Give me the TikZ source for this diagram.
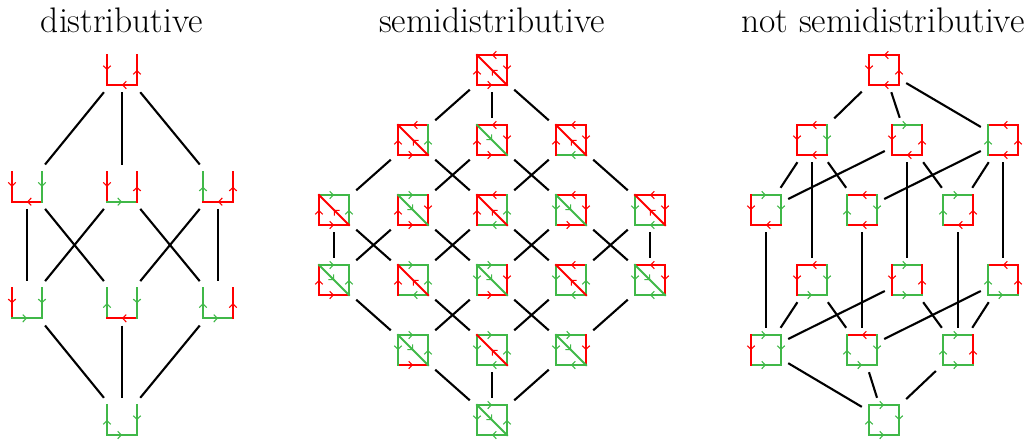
\documentclass[tikz,border=0pt]{standalone}
\usetikzlibrary{arrows.meta,decorations.markings}
\definecolor{rd}{RGB}{255,0,0}
\definecolor{gr}{RGB}{64,184,72}
\tikzset{
  icon/.style={rectangle,minimum width=44pt,minimum height=44pt,inner sep=0pt},
  conn/.style={line width=2.1pt,black},
  midarrow/.style={postaction={decorate},decoration={markings,mark=at position 0.5 with {\arrow{Straight Barb[length=3.5pt,width=7.5pt,line width=1.1pt]}}}},
  redge/.style={rd,line width=2.1pt,line cap=rect,midarrow},
  gedge/.style={gr,line width=2.1pt,line cap=rect,midarrow},
  title/.style={font=\fontsize{35.5}{40}\selectfont,anchor=base}
}
% #1 node, #2 bit (0 red, 1 green), #3 start offset, #4 end offset (red direction)
\newcommand\ed[4]{\ifnum#2=0\relax
  \draw[redge] ([shift={#3}]#1.center) -- ([shift={#4}]#1.center);
  \else
  \draw[gedge] ([shift={#4}]#1.center) -- ([shift={#3}]#1.center);
  \fi}
% left panel: L B R
\newcommand\lsq[4]{%
  \ed{#1}{#2}{(-15,-15)}{(-15,15)}%
  \ed{#1}{#3}{(15,15)}{(-15,15)}%
  \ed{#1}{#4}{(15,15)}{(15,-15)}}
% middle panel: T R B L D
\newcommand\msq[6]{%
  \ed{#1}{#2}{(15,-15)}{(-15,-15)}%
  \ed{#1}{#3}{(15,-15)}{(15,15)}%
  \ed{#1}{#4}{(-15,15)}{(15,15)}%
  \ed{#1}{#5}{(-15,15)}{(-15,-15)}%
  \ed{#1}{#6}{(15,15)}{(-15,-15)}}
% right panel: T R B L
\newcommand\rsq[5]{%
  \ed{#1}{#2}{(15,-15)}{(-15,-15)}%
  \ed{#1}{#3}{(15,15)}{(15,-15)}%
  \ed{#1}{#4}{(15,15)}{(-15,15)}%
  \ed{#1}{#5}{(-15,-15)}{(-15,15)}}
\begin{document}
\begin{tikzpicture}[x=1pt,y=-1pt]
\useasboundingbox (0,0) rectangle (1027,440);
% titles
\node[title] (t1) at (122,32) {distributive};
\node[title] (t2) at (492,32) {semidistributive};
\node[title] (t3) at (883,32) {not semidistributive};
% ---------- left ----------
\node[icon] (d0) at (122,70) {};
\node[icon] (d1a) at (27,186.7) {};
\node[icon] (d1b) at (122,186.7) {};
\node[icon] (d1c) at (218,186.7) {};
\node[icon] (d2a) at (27,303.3) {};
\node[icon] (d2b) at (122,303.3) {};
\node[icon] (d2c) at (218,303.3) {};
\node[icon] (d3) at (122,420) {};
\foreach \a/\b in {d0/d1a,d0/d1b,d0/d1c,d1a/d2a,d1a/d2b,d1b/d2a,d1b/d2c,d1c/d2b,d1c/d2c,d2a/d3,d2b/d3,d2c/d3}
  \draw[conn] (\a) -- (\b);
\lsq{d0}{0}{0}{0}
\lsq{d1a}{0}{0}{1}
\lsq{d1b}{0}{1}{0}
\lsq{d1c}{1}{0}{0}
\lsq{d2a}{0}{1}{1}
\lsq{d2b}{1}{0}{1}
\lsq{d2c}{1}{1}{0}
\lsq{d3}{1}{1}{1}
% ---------- middle ----------
\node[icon] (m0) at (492,70) {};
\node[icon] (m1a) at (413,140) {};
\node[icon] (m1b) at (492,140) {};
\node[icon] (m1c) at (571,140) {};
\node[icon] (m2a) at (334,210) {};
\node[icon] (m2b) at (413,210) {};
\node[icon] (m2c) at (492,210) {};
\node[icon] (m2d) at (571,210) {};
\node[icon] (m2e) at (650,210) {};
\node[icon] (m3a) at (334,280) {};
\node[icon] (m3b) at (413,280) {};
\node[icon] (m3c) at (492,280) {};
\node[icon] (m3d) at (571,280) {};
\node[icon] (m3e) at (650,280) {};
\node[icon] (m4a) at (413,350) {};
\node[icon] (m4b) at (492,350) {};
\node[icon] (m4c) at (571,350) {};
\node[icon] (m5) at (492,420) {};
\foreach \a/\b in {m0/m1a,m0/m1b,m0/m1c,m1a/m2a,m1a/m2c,m1b/m2b,m1b/m2d,m1c/m2c,m1c/m2e,
  m2a/m3a,m2a/m3b,m2b/m3a,m2b/m3c,m2c/m3b,m2c/m3d,m2d/m3c,m2d/m3e,m2e/m3d,m2e/m3e,
  m3a/m4a,m3b/m4b,m3c/m4a,m3c/m4c,m3d/m4b,m3e/m4c,m4a/m5,m4b/m5,m4c/m5}
  \draw[conn] (\a) -- (\b);
\msq{m0}{0}{0}{0}{0}{0}
\msq{m1a}{0}{1}{0}{0}{0}
\msq{m1b}{0}{0}{0}{0}{1}
\msq{m1c}{0}{0}{1}{0}{0}
\msq{m2a}{1}{1}{0}{0}{0}
\msq{m2b}{1}{0}{0}{0}{1}
\msq{m2c}{0}{1}{1}{0}{0}
\msq{m2d}{0}{0}{0}{1}{1}
\msq{m2e}{0}{0}{1}{1}{0}
\msq{m3a}{1}{1}{0}{0}{1}
\msq{m3b}{1}{1}{1}{0}{0}
\msq{m3c}{1}{0}{0}{1}{1}
\msq{m3d}{0}{1}{1}{1}{0}
\msq{m3e}{0}{0}{1}{1}{1}
\msq{m4a}{1}{1}{0}{1}{1}
\msq{m4b}{1}{1}{1}{1}{0}
\msq{m4c}{1}{0}{1}{1}{1}
\msq{m5}{1}{1}{1}{1}{1}
% ---------- right ----------
\node[icon] (r0) at (884,70) {};
\node[icon] (r1a) at (812,140) {};
\node[icon] (r1b) at (907,140) {};
\node[icon] (r1c) at (1003,140) {};
\node[icon] (r2a) at (766,210) {};
\node[icon] (r2b) at (862,210) {};
\node[icon] (r2c) at (958,210) {};
\node[icon] (r3a) at (812,280) {};
\node[icon] (r3b) at (907,280) {};
\node[icon] (r3c) at (1003,280) {};
\node[icon] (r4a) at (766,350) {};
\node[icon] (r4b) at (862,350) {};
\node[icon] (r4c) at (958,350) {};
\node[icon] (r5) at (884,420) {};
\foreach \a/\b in {r0/r1a,r0/r1b,r0/r1c,r1a/r2a,r1a/r2b,r1a/r3a,r1b/r2a,r1b/r2c,r1b/r3b,
  r1c/r2b,r1c/r2c,r1c/r3c,r2a/r4a,r2b/r4b,r2c/r4c,r3a/r4a,r3a/r4b,r3b/r4a,r3b/r4c,
  r3c/r4b,r3c/r4c,r4a/r5,r4b/r5,r4c/r5}
  \draw[conn] (\a) -- (\b);
\rsq{r0}{0}{0}{0}{0}
\rsq{r1a}{0}{1}{0}{0}
\rsq{r1b}{1}{0}{0}{0}
\rsq{r1c}{0}{0}{0}{1}
\rsq{r2a}{1}{1}{0}{0}
\rsq{r2b}{0}{1}{0}{1}
\rsq{r2c}{1}{0}{0}{1}
\rsq{r3a}{0}{1}{1}{0}
\rsq{r3b}{1}{0}{1}{0}
\rsq{r3c}{0}{0}{1}{1}
\rsq{r4a}{1}{1}{1}{0}
\rsq{r4b}{0}{1}{1}{1}
\rsq{r4c}{1}{0}{1}{1}
\rsq{r5}{1}{1}{1}{1}
\end{tikzpicture}
\end{document}
